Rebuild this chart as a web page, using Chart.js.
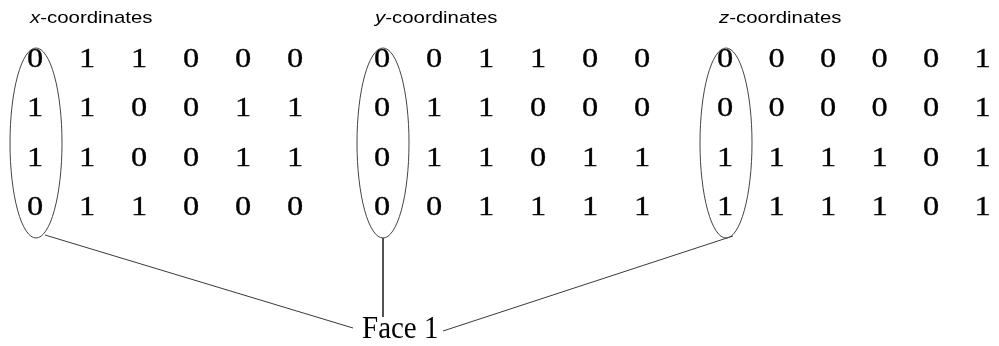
<!DOCTYPE html>
<html>
<head>
<meta charset="utf-8">
<script src="https://cdn.jsdelivr.net/npm/chart.js@4.4.1/dist/chart.umd.min.js"></script>
<style>
  html, body { margin: 0; padding: 0; background: #fff; }
  #wrap { width: 999px; height: 346px; }
</style>
</head>
<body>
<div id="wrap"><canvas id="chart" width="999" height="346"></canvas></div>
<script>
// data
const panel_titles = ['x', 'y', 'z'];
const x_coords = [
    [0, 1, 1, 0, 0, 0],
    [1, 1, 0, 0, 1, 1],
    [1, 1, 0, 0, 1, 1],
    [0, 1, 1, 0, 0, 0]
];
const y_coords = [
    [0, 0, 1, 1, 0, 0],
    [0, 1, 1, 0, 0, 0],
    [0, 1, 1, 0, 1, 1],
    [0, 0, 1, 1, 1, 1]
];
const z_coords = [
    [0, 0, 0, 0, 0, 1],
    [0, 0, 0, 0, 0, 1],
    [1, 1, 1, 1, 0, 1],
    [1, 1, 1, 1, 0, 1]
];
const face_label = 'Face 1';

// layout (pixel units of the 999x346 canvas)
const panel_first_col = [35, 382, 725];
const panel_col_step = [52, 52, 51.5];
const row_y = [59, 108, 158, 207];
const title_x = [30, 375, 719];
const title_baseline = 23;
const ellipse_top = 48;
const ellipse_bottom = 238;
const ellipse_rx = 26;
const face_x = 362;
const face_baseline = 338;
const connectors = [
    [{x: 45, y: 235}, {x: 353, y: 328}],
    [{x: 383, y: 238}, {x: 383, y: 317}],
    [{x: 733, y: 236}, {x: 443, y: 331}]
];

const matrices = [x_coords, y_coords, z_coords];

function buildPoints(matrix, p){
    let points = [];
    matrix.forEach((row, r) => {
        row.forEach((val, c) => {
            points.push({x: panel_first_col[p] + c * panel_col_step[p], y: row_y[r], v: val});
        });
    });
    return points;
}

let datasets = [];
matrices.forEach((m, p) => {
    datasets.push({
        label: panel_titles[p] + '-coordinates',
        data: buildPoints(m, p),
        pointRadius: 0,
        showLine: false,
        isDigits: true
    });
});
connectors.forEach(seg => {
    datasets.push({
        data: seg,
        showLine: true,
        pointRadius: 0,
        borderColor: '#3a3a3a',
        borderWidth: 1
    });
});

const diagramPlugin = {
    id: 'diagram',
    beforeDraw: (chart) => {
        const {ctx} = chart;
        ctx.save();
        ctx.fillStyle = '#ffffff';
        ctx.fillRect(0, 0, chart.width, chart.height);
        ctx.restore();
    },
    afterDatasetsDraw: (chart) => {
        const {ctx} = chart;
        const xs = chart.scales.x;
        const ys = chart.scales.y;
        ctx.save();

        // digits
        ctx.fillStyle = '#000';
        ctx.strokeStyle = '#000';
        ctx.lineWidth = 0.3;
        ctx.textAlign = 'center';
        ctx.textBaseline = 'middle';
        ctx.font = '27px "Liberation Serif"';
        chart.data.datasets.forEach((ds, i) => {
            if(!ds.isDigits) return;
            chart.getDatasetMeta(i).data.forEach((el, j) => {
                ctx.save();
                ctx.translate(el.x, el.y + 1);
                ctx.scale(1.2, 1);
                ctx.fillText(String(ds.data[j].v), 0, 0);
                ctx.strokeText(String(ds.data[j].v), 0, 0);
                ctx.restore();
            });
        });

        // titles: italic axis letter + "-coordinates"
        ctx.textAlign = 'left';
        ctx.textBaseline = 'alphabetic';
        panel_titles.forEach((t, p) => {
            let px = xs.getPixelForValue(title_x[p]);
            let py = ys.getPixelForValue(title_baseline);
            ctx.save();
            ctx.translate(px, py);
            ctx.scale(1.2, 1);
            ctx.font = 'italic 17px "Liberation Sans"';
            ctx.fillText(t, 0, 0);
            let w = ctx.measureText(t).width;
            ctx.font = '17px "Liberation Sans"';
            ctx.fillText('-coordinates', w, 0);
            ctx.restore();
        });

        // ellipses round the first column
        ctx.strokeStyle = '#444';
        ctx.lineWidth = 1;
        panel_first_col.forEach(cx => {
            let x0 = xs.getPixelForValue(cx + 1);
            let y0 = ys.getPixelForValue((ellipse_top + ellipse_bottom) / 2);
            let ry = Math.abs(ys.getPixelForValue(ellipse_bottom) - ys.getPixelForValue(ellipse_top)) / 2;
            let rx = Math.abs(xs.getPixelForValue(cx + ellipse_rx) - xs.getPixelForValue(cx));
            ctx.beginPath();
            ctx.ellipse(x0, y0, rx, ry, 0, 0, Math.PI * 2);
            ctx.stroke();
        });

        // face label
        ctx.fillStyle = '#000';
        ctx.save();
        ctx.translate(xs.getPixelForValue(face_x), ys.getPixelForValue(face_baseline));
        ctx.scale(1.0, 1.08);
        ctx.font = '29px "Liberation Serif"';
        ctx.fillText(face_label, 0, 0);
        ctx.restore();
        ctx.restore();
    }
};

const chart = new Chart(document.getElementById('chart'), {
    type: 'scatter',
    data: { datasets: datasets },
    options: {
        responsive: false,
        devicePixelRatio: 1,
        animation: false,
        layout: { padding: 0 },
        scales: {
            x: { type: 'linear', min: 0, max: 999, display: false },
            y: { type: 'linear', min: 0, max: 346, reverse: true, display: false }
        },
        plugins: {
            legend: { display: false },
            tooltip: { enabled: false }
        }
    },
    plugins: [diagramPlugin]
});
</script>
</body>
</html>
